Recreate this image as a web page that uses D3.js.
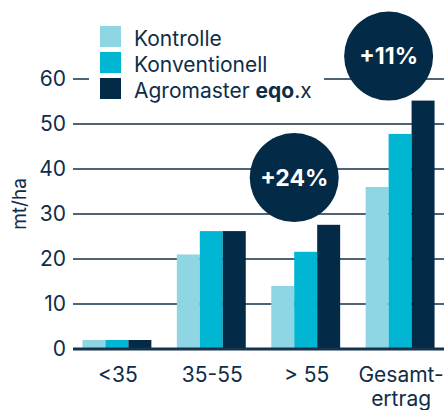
<!DOCTYPE html>
<html>
<head>
<meta charset="utf-8">
<script src="https://cdn.jsdelivr.net/npm/d3@7"></script>
<style>
  body { margin: 0; background: #fff; }
  svg { display: block; font-family: Inter, "Noto Sans", sans-serif; }
</style>
</head>
<body>
<svg class="chart" width="444" height="410"></svg>
<script>
const categories = [`<35`, `35-55`, `> 55`, `Gesamt-|ertrag`];
const series = [`Kontrolle`, `Konventionell`, `Agromaster`];
const kontrolle = [2, 21, 14, 36];
const konventionell = [2, 26.2, 21.6, 47.8];
const agromaster = [2, 26.2, 27.6, 55.2];
const yTicks = [0, 10, 20, 30, 40, 50, 60];
const badges = [
  {label: `+24%`, cat: `> 55`, value: 38.1},
  {label: `+11%`, cat: `Gesamt-|ertrag`, value: 65.1}
];

const colors = [`#8fd6e4`, `#00b6d2`, `#032a46`];
const textColor = `#0f2d48`;
const gridColor = `#4d6376`;

const svg = d3.select(`.chart`);

const x = d3.scaleBand()
  .domain(categories)
  .range([73, 444])
  .paddingInner(0.27)
  .paddingOuter(0.1);

const xs = d3.scaleBand()
  .domain(series)
  .range([0, x.bandwidth()]);

const y = d3.scaleLinear()
  .domain([0, 60])
  .range([349, 79]);

// grid + y labels
const yAxis = svg.append(`g`)
  .attr(`transform`, `translate(73,0)`)
  .call(d3.axisLeft(y).tickValues(yTicks).tickSize(0).tickPadding(7));

yAxis.select(`.domain`).remove();
yAxis.selectAll(`text`)
  .attr(`font-size`, `21px`)
  .attr(`font-family`, `Inter, sans-serif`)
  .attr(`fill`, textColor);

svg.append(`g`)
  .selectAll(`line`)
  .data(yTicks.filter(d => d > 0))
  .enter().append(`line`)
  .attr(`x1`, 73)
  .attr(`x2`, 444)
  .attr(`y1`, d => y(d))
  .attr(`y2`, d => y(d))
  .attr(`stroke`, gridColor)
  .attr(`stroke-width`, 2);

svg.append(`text`)
  .attr(`transform`, `translate(26,204) rotate(-90)`)
  .attr(`text-anchor`, `middle`)
  .attr(`font-size`, `19px`)
  .attr(`fill`, textColor)
  .text(`mt/ha`);

// bars
const rows = categories.map((c, i) => ({
  cat: c,
  values: [kontrolle[i], konventionell[i], agromaster[i]]
}));

const groups = svg.append(`g`)
  .selectAll(`g`)
  .data(rows)
  .enter().append(`g`)
  .attr(`transform`, d => `translate(${x(d.cat)},0)`);

groups.selectAll(`rect`)
  .data(d => d.values.map((v, j) => ({key: series[j], v, j})))
  .enter().append(`rect`)
  .attr(`x`, d => xs(d.key))
  .attr(`y`, d => y(d.v))
  .attr(`width`, xs.bandwidth())
  .attr(`height`, d => y(0) - y(d.v))
  .attr(`fill`, d => colors[d.j]);

// baseline
svg.append(`line`)
  .attr(`x1`, 73)
  .attr(`x2`, 444)
  .attr(`y1`, y(0))
  .attr(`y2`, y(0))
  .attr(`stroke`, `#15334c`)
  .attr(`stroke-width`, 3);

// category labels
const catLabels = svg.append(`g`)
  .selectAll(`text`)
  .data(categories)
  .enter().append(`text`)
  .attr(`x`, d => x(d) + x.bandwidth() / 2 + 1)
  .attr(`y`, 382)
  .attr(`text-anchor`, `middle`)
  .attr(`font-size`, `21px`)
  .attr(`fill`, textColor);

catLabels.selectAll(`tspan`)
  .data(d => d.split(`|`))
  .enter().append(`tspan`)
  .attr(`x`, function() { return d3.select(this.parentNode).attr(`x`); })
  .attr(`dy`, (d, i) => i === 0 ? 0 : 24)
  .text(d => d);

// legend
const legend = svg.append(`g`);

legend.append(`rect`)
  .attr(`x`, 89)
  .attr(`y`, 20)
  .attr(`width`, 235)
  .attr(`height`, 84)
  .attr(`fill`, `#fff`);

const legendItems = legend.selectAll(`g`)
  .data(series)
  .enter().append(`g`)
  .attr(`transform`, (d, i) => `translate(100,${26 + i * 26})`);

legendItems.append(`rect`)
  .attr(`width`, 21)
  .attr(`height`, 21)
  .attr(`fill`, (d, i) => colors[i]);

const legendText = legendItems.append(`text`)
  .attr(`x`, 34)
  .attr(`y`, 20)
  .attr(`font-size`, `21px`)
  .attr(`fill`, textColor);

legendText.filter((d, i) => i < 2).text(d => d);
const agroText = legendText.filter((d, i) => i === 2);
agroText.append(`tspan`).text(`Agromaster `);
agroText.append(`tspan`).attr(`font-weight`, 700).text(`eqo`);
agroText.append(`tspan`).text(`.x`);

// badges
const badge = svg.append(`g`)
  .selectAll(`g`)
  .data(badges)
  .enter().append(`g`)
  .attr(`transform`, d => `translate(${x(d.cat) + xs(`Konventionell`)},${y(d.value)})`);

badge.append(`circle`)
  .attr(`r`, 44.5)
  .attr(`fill`, colors[2]);

badge.append(`text`)
  .attr(`text-anchor`, `middle`)
  .attr(`dy`, `0.36em`)
  .attr(`font-size`, `23px`)
  .attr(`font-weight`, 700)
  .attr(`fill`, `#fff`)
  .text(d => d.label);
</script>
</body>
</html>
